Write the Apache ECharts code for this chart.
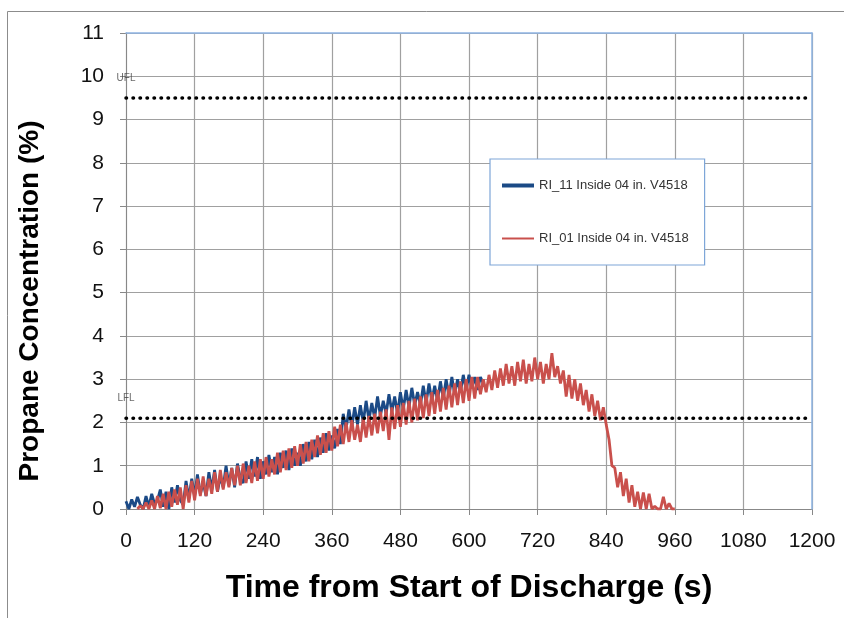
<!DOCTYPE html>
<html>
<head>
<meta charset="utf-8">
<script src="https://cdn.jsdelivr.net/npm/echarts@6/dist/echarts.min.js"></script>
<style>
html,body{margin:0;padding:0;background:#fff;}
#chart{width:844px;height:618px;}
</style>
</head>
<body>
<div id="chart"></div>
<script>
// Sample grid (seconds)
const blueStart = 0, redStart = 20, sampleStep = 5;

// RI_11 Inside 04 in. V4518 (t = 0..625 s, every 5 s), % propane
const blueValues = [
0.18,0.0,0.22,0.05,0.28,0.1,0.0,0.3,0.05,0.35,0.12,0.2,0.45,0.05,0.4,0.0,0.5,0.15,0.55,0.2,
0.1,0.65,0.25,0.7,0.3,0.8,0.35,0.6,0.3,0.85,0.45,0.9,0.4,0.75,0.5,1.0,0.55,0.95,0.5,1.05,
0.7,0.6,1.1,0.7,1.15,0.75,1.2,0.7,1.1,0.8,1.25,0.85,1.2,0.8,1.3,0.95,1.35,0.9,1.4,1.0,
1.3,1.0,1.5,1.1,1.55,1.15,1.6,1.2,1.65,1.3,1.75,1.35,1.7,1.4,1.85,1.5,2.2,1.85,2.3,1.9,
2.35,1.95,2.4,2.0,2.5,2.05,2.45,2.1,2.6,2.15,2.5,2.2,2.65,2.25,2.6,2.2,2.7,2.3,2.75,2.35,
2.8,2.4,2.7,2.4,2.85,2.45,2.9,2.5,2.85,2.5,2.95,2.55,3.0,2.6,3.05,2.65,3.0,2.7,3.1,2.75,
3.1,2.8,3.05,2.75,3.05,2.9
];

// RI_01 Inside 04 in. V4518 (t = 20..960 s, every 5 s), % propane
const redValues = [
0.0,0.08,0.0,0.15,0.0,0.2,0.0,0.3,0.02,0.35,0.0,0.4,0.05,0.45,0.1,0.5,0.0,0.55,0.15,0.65,
0.2,0.7,0.3,0.75,0.3,0.7,0.35,0.85,0.4,0.9,0.45,0.85,0.5,0.95,0.55,1.0,0.55,1.05,0.6,1.0,
0.6,1.1,0.65,1.15,0.7,1.2,0.75,1.15,0.8,1.3,0.85,1.35,0.9,1.4,0.95,1.45,1.0,1.5,1.05,1.55,
1.1,1.6,1.2,1.7,1.25,1.75,1.3,1.8,1.35,1.9,1.45,1.95,1.5,2.0,1.55,2.05,1.6,1.95,1.55,2.1,
1.65,2.15,1.7,2.2,1.75,2.25,1.8,2.3,1.6,2.35,1.85,2.4,1.9,2.45,1.95,2.5,2.0,2.55,2.05,2.6,
2.1,2.65,2.15,2.7,2.2,2.75,2.25,2.8,2.3,2.85,2.35,2.9,2.4,2.95,2.45,3.0,2.5,3.05,2.55,3.05,
2.65,3.0,2.7,3.1,2.75,3.2,2.8,3.25,2.85,3.35,2.9,3.3,2.85,3.4,2.95,3.45,2.9,3.35,2.95,3.5,
3.0,3.4,2.9,3.35,3.0,3.6,3.05,3.3,2.9,3.2,2.6,3.1,2.55,3.0,2.5,2.9,2.4,2.75,2.25,2.65,
2.15,2.5,2.05,2.35,1.95,1.6,1.0,0.95,0.5,0.85,0.3,0.7,0.15,0.55,0.05,0.4,0.0,0.38,0.0,0.35,
0.0,0.06,0.0,0.0,0.28,0.0,0.13,0.0,0.0
];

// Flammability limits (%)
const ufl = 9.5, lfl = 2.1;
const limitLabels = [{name:'UFL', t:0, v:9.96}, {name:'LFL', t:0, v:2.57}];

const xMin = 0, xMax = 1200, xInterval = 120;
const yMin = 0, yMax = 11, yInterval = 1;

const blueName = 'RI_11 Inside 04 in. V4518';
const redName = 'RI_01 Inside 04 in. V4518';
const xTitle = 'Time from Start of Discharge (s)';
const yTitle = 'Propane Concentration (%)';

const blueData = blueValues.map((v,i)=>[blueStart + i*sampleStep, v]);
const redData = redValues.map((v,i)=>[redStart + i*sampleStep, v]);

const FONT = 'Liberation Sans';
const chart = echarts.init(document.getElementById('chart'), null, {renderer:'canvas'});

const dotted = {color:'#000', width:3.5, type:[0.5,6.5], cap:'round'};

chart.setOption({
  backgroundColor:'#fff',
  animation:false,
  textStyle:{fontFamily:FONT},
  graphic:[{
    type:'rect', shape:{x:7.5,y:11.5,width:850,height:620},
    style:{fill:null, stroke:'#8c8c8c', lineWidth:1}, z:-10, silent:true
  },{
    type:'text', x:30, y:301, rotation:Math.PI/2, silent:true,
    style:{text:yTitle, fontFamily:FONT, fontSize:28, fontWeight:'bold', fill:'#000',
           align:'center', verticalAlign:'middle'}
  }],
  grid:{left:126, right:32, top:33, bottom:109, containLabel:false},
  legend:{
    orient:'vertical', left:490, top:159,
    padding:[20,16,20,12], itemGap:40, itemWidth:32, itemHeight:14,
    backgroundColor:'#fff', borderColor:'#7ea6d8', borderWidth:1.2,
    textStyle:{fontFamily:FONT, fontSize:13, color:'#333'},
    itemStyle:{borderWidth:0},
    data:[
      {name:blueName, icon:'path://M0 0H32V4H0Z'},
      {name:redName, icon:'path://M0 0H32V2H0Z'}
    ]
  },
  xAxis:[{
    type:'value', min:xMin, max:xMax, interval:xInterval,
    name:xTitle, nameLocation:'middle', nameGap:63,
    nameTextStyle:{fontFamily:FONT, fontSize:32, fontWeight:'bold', color:'#000'},
    axisLine:{show:true, onZero:false, lineStyle:{color:'#888', width:1}},
    axisTick:{show:true, length:6, lineStyle:{color:'#888'}},
    axisLabel:{fontFamily:FONT, fontSize:21, color:'#111', margin:22, formatter:v=>String(v)},
    splitLine:{show:true, lineStyle:{color:'#a0a0a0', width:1.2}}
  },{
    type:'value', position:'top', min:xMin, max:xMax, z:5,
    axisLine:{show:true, onZero:false, lineStyle:{color:'#8eb4e3', width:1.5}},
    axisTick:{show:false}, axisLabel:{show:false}, splitLine:{show:false}
  }],
  yAxis:[{
    type:'value', min:yMin, max:yMax, interval:yInterval,
    axisLine:{show:true, onZero:false, lineStyle:{color:'#888', width:1}},
    axisTick:{show:true, length:6, lineStyle:{color:'#888'}},
    axisLabel:{fontFamily:FONT, fontSize:21, color:'#111', margin:22},
    splitLine:{show:true, lineStyle:{color:'#a0a0a0', width:1.2}}
  },{
    type:'value', position:'right', min:yMin, max:yMax, z:5,
    axisLine:{show:true, onZero:false, lineStyle:{color:'#8eb4e3', width:1.5}},
    axisTick:{show:false}, axisLabel:{show:false}, splitLine:{show:false}
  }],
  series:[
    {
      name:blueName, type:'line', data:blueData, showSymbol:false, symbol:'none',
      lineStyle:{color:'#1b4a86', width:2.8}, itemStyle:{color:'#1b4a86'}, z:3
    },
    {
      name:redName, type:'line', data:redData, showSymbol:false, symbol:'none',
      lineStyle:{color:'#c9504c', width:2.8}, itemStyle:{color:'#c9504c'}, z:4
    },
    {
      name:'UFL line', type:'line', data:[[xMin,ufl],[xMax,ufl]], symbol:'none',
      lineStyle:dotted, z:6, silent:true
    },
    {
      name:'LFL line', type:'line', data:[[xMin,lfl],[xMax,lfl]], symbol:'none',
      lineStyle:dotted, z:6, silent:true
    },
    {
      name:'limit labels', type:'scatter', symbolSize:0, silent:true, clip:false,
      data:limitLabels.map(d=>({value:[d.t,d.v], label:{formatter:d.name}})),
      label:{show:true, position:'inside', fontFamily:FONT, fontSize:10, color:'#444'}
    }
  ]
});
</script>
</body>
</html>
